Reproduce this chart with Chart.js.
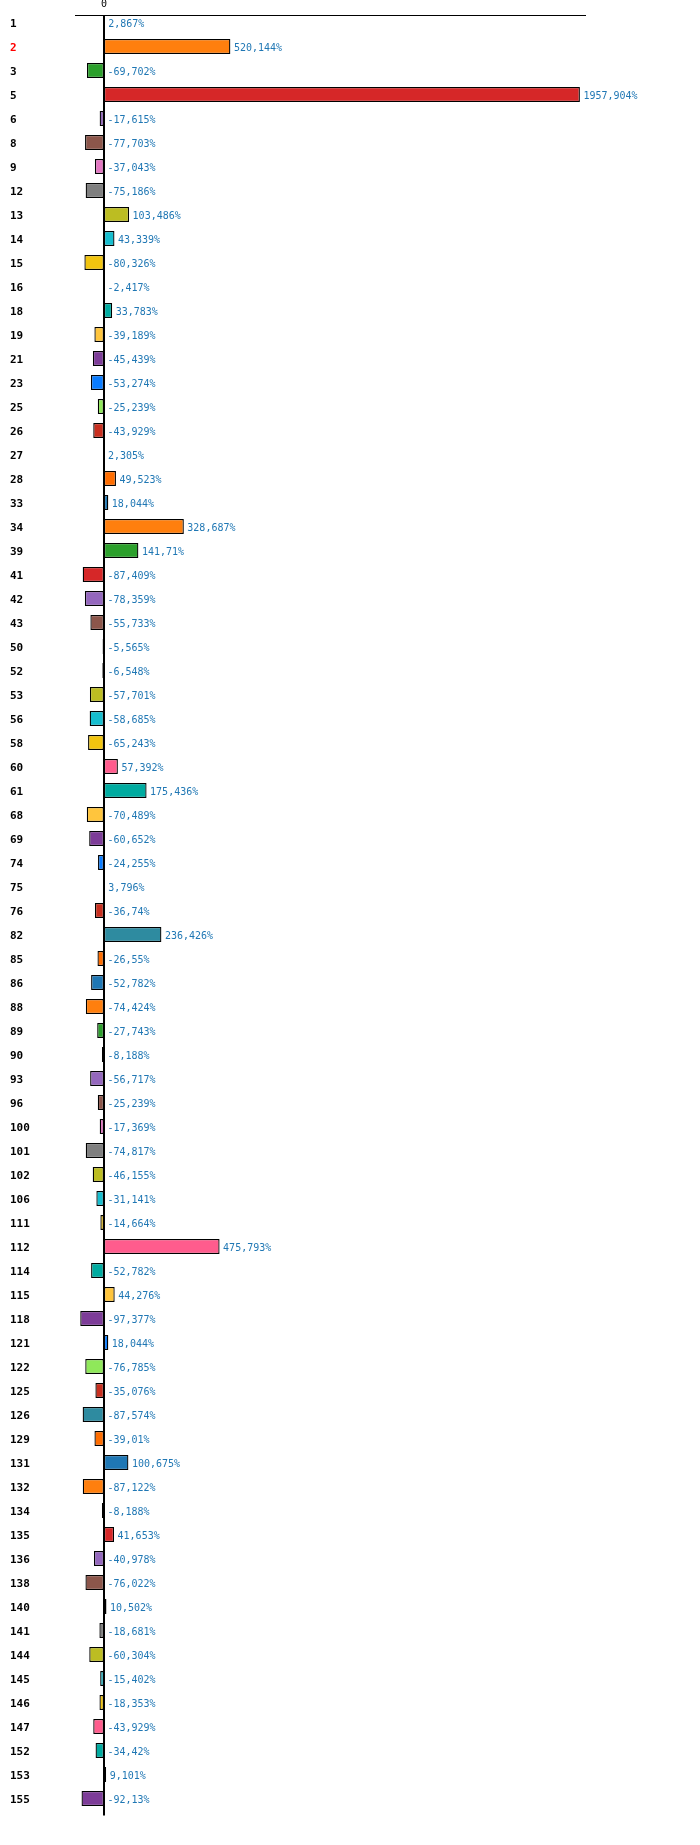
<!DOCTYPE html>
<html>
<head>
<meta charset="utf-8">
<script src="https://cdn.jsdelivr.net/npm/chart.js@4/dist/chart.umd.min.js"></script>
<style>
  html, body { margin: 0; padding: 0; background: #ffffff; }
  #wrap { width: 700px; height: 1845px; position: relative; }
</style>
</head>
<body>
<div id="wrap"><canvas id="c"></canvas></div>
<script>
const categories = ['1','2','3','5','6','8','9','12','13','14','15','16','18','19','21','23','25','26','27','28',
  '33','34','39','41','42','43','50','52','53','56','58','60','61','68','69','74','75','76','82','85',
  '86','88','89','90','93','96','100','101','102','106','111','112','114','115','118','121','122','125','126','129',
  '131','132','134','135','136','138','140','141','144','145','146','147','152','153','155'];

const values = [2.867, 520.144, -69.702, 1957.904, -17.615, -77.703, -37.043, -75.186, 103.486, 43.339,
  -80.326, -2.417, 33.783, -39.189, -45.439, -53.274, -25.239, -43.929, 2.305, 49.523,
  18.044, 328.687, 141.71, -87.409, -78.359, -55.733, -5.565, -6.548, -57.701, -58.685,
  -65.243, 57.392, 175.436, -70.489, -60.652, -24.255, 3.796, -36.74, 236.426, -26.55,
  -52.782, -74.424, -27.743, -8.188, -56.717, -25.239, -17.369, -74.817, -46.155, -31.141,
  -14.664, 475.793, -52.782, 44.276, -97.377, 18.044, -76.785, -35.076, -87.574, -39.01,
  100.675, -87.122, -8.188, 41.653, -40.978, -76.022, 10.502, -18.681, -60.304, -15.402,
  -18.353, -43.929, -34.42, 9.101, -92.13];

const highlighted = ['2'];
const xTicks = [0];

const palette = ['#1f77b4','#ff7f0e','#2ca02c','#d62728','#9467bd','#8c564b','#e377c2','#7f7f7f','#bcbd22','#17becf',
  '#f1c40f','#ff5c8d','#00aba0','#ffc53d','#7d3c98','#0a7cff','#8fe85a','#c92f1f','#2e8ba0','#ff6d00'];

const barColors = categories.map((c, i) => palette[i % palette.length]);

function fmt(v) { return String(v).replace('.', ',') + '%'; }

const decor = {
  id: 'decor',
  afterDatasetsDraw(chart) {
    const ctx = chart.ctx;
    const xs = chart.scales.x;
    const ca = chart.chartArea;
    const meta = chart.getDatasetMeta(0);
    const zero = xs.getPixelForValue(0);
    ctx.save();
    // value labels
    ctx.font = '10px "DejaVu Sans Mono", monospace';
    ctx.fillStyle = '#1f77b4';
    ctx.textAlign = 'left';
    ctx.textBaseline = 'middle';
    meta.data.forEach((bar, i) => {
      const v = values[i];
      const end = v > 0 ? Math.max(bar.x, zero) : zero;
      ctx.fillText(fmt(v), end + 3.5, bar.y + 1.5);
    });
    // top axis line
    const topY = Math.round(ca.top + 4.5) + 0.5;
    ctx.strokeStyle = '#000000';
    ctx.lineWidth = 1;
    ctx.beginPath();
    ctx.moveTo(ca.left, topY);
    ctx.lineTo(ca.right, topY);
    ctx.stroke();
    // zero line
    const zx = Math.round(zero);
    ctx.lineWidth = 2;
    ctx.beginPath();
    ctx.moveTo(zx, topY - 0.5);
    ctx.lineTo(zx, ca.bottom + 5);
    ctx.stroke();
    ctx.restore();
  }
};

new Chart(document.getElementById('c'), {
  type: 'bar',
  data: {
    labels: categories,
    datasets: [{
      data: values,
      backgroundColor: barColors,
      borderColor: '#000000',
      borderWidth: 1.3,
      borderSkipped: false,
      barPercentage: 0.625,
      categoryPercentage: 1.0
    }]
  },
  options: {
    indexAxis: 'y',
    responsive: true,
    maintainAspectRatio: false,
    animation: false,
    devicePixelRatio: 1,
    layout: { padding: { left: 10, right: 114, top: 0, bottom: 34.5 } },
    plugins: { legend: { display: false }, tooltip: { enabled: false } },
    scales: {
      x: {
        type: 'linear',
        position: 'top',
        min: -119,
        max: 1983,
        afterBuildTicks: (s) => { s.ticks = xTicks.map(v => ({ value: v })); },
        afterFit: (s) => { s.height = 10.5; },
        grid: { display: false, drawTicks: false, tickLength: 0 },
        border: { display: false },
        ticks: {
          padding: 0,
          maxRotation: 0,
          color: '#000000',
          font: { family: '"DejaVu Sans Mono", monospace', size: 10 },
          callback: (v) => String(v)
        }
      },
      y: {
        type: 'category',
        offset: true,
        afterFit: (s) => { s.width = 65; },
        grid: { display: false, drawTicks: false, tickLength: 0 },
        border: { display: false },
        ticks: {
          autoSkip: false,
          crossAlign: 'far',
          padding: 0,
          labelOffset: 2,
          color: (ctx) => highlighted.includes(categories[ctx.index]) ? '#ff0000' : '#000000',
          font: { family: '"DejaVu Sans Mono", monospace', size: 11, weight: 'bold' }
        }
      }
    }
  },
  plugins: [decor]
});
</script>
</body>
</html>
